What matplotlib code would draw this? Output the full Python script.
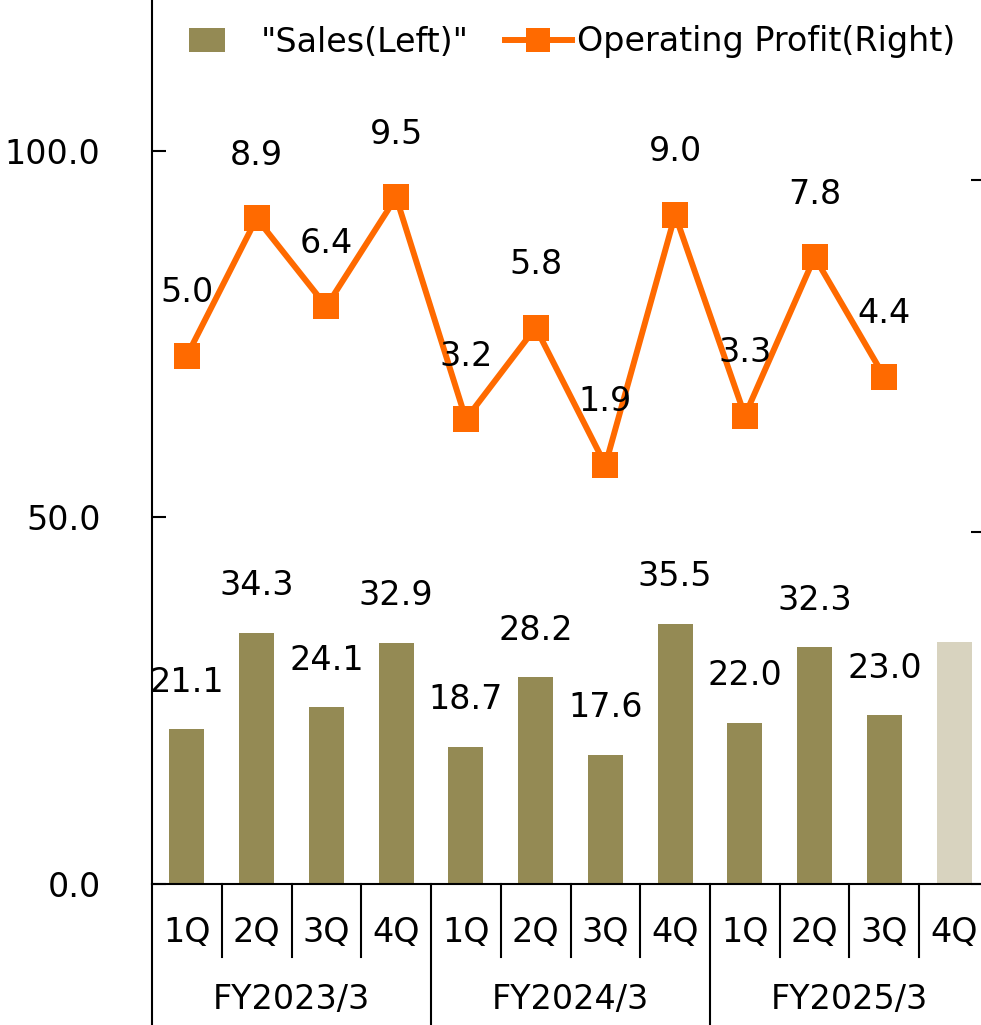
import matplotlib
matplotlib.use("Agg")
import matplotlib.pyplot as plt
import matplotlib.transforms as mtransforms
from matplotlib.patches import Patch, Rectangle
from matplotlib.lines import Line2D
from matplotlib.legend_handler import HandlerPatch
import numpy as np

quarters = ["1Q", "2Q", "3Q", "4Q"] * 3
years = ["FY2023/3", "FY2024/3", "FY2025/3"]
sales = [21.1, 34.3, 24.1, 32.9, 18.7, 28.2, 17.6, 35.5, 22.0, 32.3, 23.0, 33.0]
sales_labels = ["21.1", "34.3", "24.1", "32.9", "18.7", "28.2", "17.6", "35.5",
                "22.0", "32.3", "23.0", ""]
profit = [5.0, 8.9, 6.4, 9.5, 3.2, 5.8, 1.9, 9.0, 3.3, 7.8, 4.4]
left_ticks = [0, 50, 100]
right_ticks = [-10, 0, 10]

olive = "#948a54"
forecast = "#d8d3bf"
orange = "#ff6a00"
fs = 24

fig = plt.figure(figsize=(9.81, 10.25), dpi=100)
W, H = 981, 1025
ax = fig.add_axes([152 / W, (H - 884) / H, (989 - 152) / W, 884 / H])
ax2 = ax.twinx()

x = np.arange(len(sales))
colors = [olive] * 11 + [forecast]
ax.bar(x, sales, width=0.5, color=colors, zorder=2)
for xi, v, lab in zip(x, sales, sales_labels):
    if lab:
        ax.annotate(lab, (xi, v), xytext=(0, 47), textcoords="offset pixels",
                    ha="center", va="center", fontsize=fs)

xp = np.arange(len(profit))
ax2.plot(xp, profit, color=orange, lw=4.3, marker="s", ms=19,
         markeredgewidth=0, zorder=3)
for xi, v in zip(xp, profit):
    ax2.annotate(f"{v:.1f}", (xi, v), xytext=(0, 63), textcoords="offset pixels",
                 ha="center", va="center", fontsize=fs)

ax.set_xlim(-0.5, 11.5)
ax.set_ylim(0, 120.6)
ax2.set_ylim(-10, 15.1)
ax.set_yticks(left_ticks)
ax.set_yticklabels([f"{t:.1f}" for t in left_ticks], fontsize=fs)
ax2.set_yticks(right_ticks)
ax2.set_yticklabels([])
ax.set_xticks([])
for a in (ax, ax2):
    a.spines["top"].set_visible(False)
    a.spines["right"].set_visible(False)
ax2.spines["left"].set_visible(False)
ax2.spines["bottom"].set_visible(False)
ax.spines["left"].set_linewidth(1.5)
ax.spines["bottom"].set_linewidth(1.5)
ax.tick_params(axis="y", which="both", left=True, direction="in",
               length=10, width=1.5, pad=37)
ax2.tick_params(axis="y", which="both", right=True, direction="in",
                length=13, width=1.5)

# category axis with group separators
trans = mtransforms.blended_transform_factory(ax.transData, ax.transAxes)
px = 1 / 884
for i in range(13):
    xb = i - 0.5
    depth = 141 if i % 4 == 0 else 73
    ax.plot([xb, xb], [0, -depth * px], transform=trans, color="black",
            lw=1.5, clip_on=False)
for xi, q in zip(x, quarters):
    ax.text(xi, -49 * px, q, transform=trans, ha="center", va="center", fontsize=fs)
for j, y in enumerate(years):
    ax.text(4 * j + 1.5, -116 * px, y, transform=trans, ha="center",
            va="center", fontsize=fs)


# legend: small rectangle for the bars, line+marker for the profit
class SmallRect(HandlerPatch):
    def create_artists(self, legend, orig_handle, xdescent, ydescent,
                       width, height, fontsize, trans):
        w = width * 0.54
        h = height * 1.0
        r = Rectangle((-xdescent, -ydescent + (height - h) / 2), w, h,
                      facecolor=orig_handle.get_facecolor(), transform=trans)
        return [r]


handles = [Patch(color=olive, label='"Sales(Left)"'),
           Line2D([], [], color=orange, lw=4.3, marker="s", ms=17,
                  markeredgewidth=0, label="Operating Profit(Right)")]
fig.legend(handles=handles, loc="center", bbox_to_anchor=(0.583, 1 - 42 / H),
           ncol=2, frameon=False, fontsize=fs, handlelength=2.0,
           handletextpad=0.15, columnspacing=1.1,
           handler_map={Patch: SmallRect()})

fig.savefig("out.png", dpi=100)
